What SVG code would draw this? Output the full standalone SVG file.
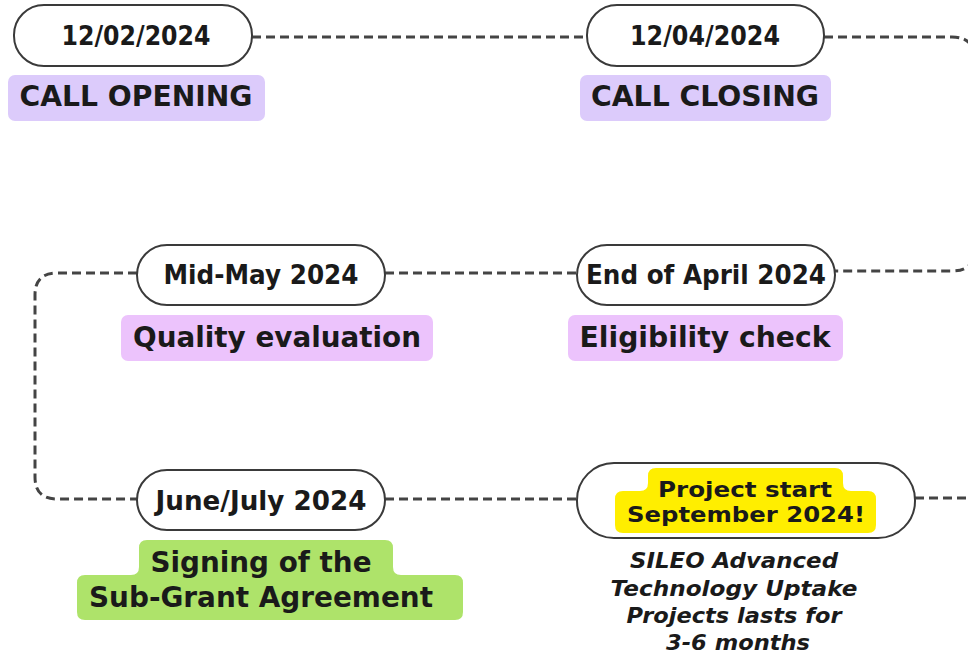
<svg xmlns="http://www.w3.org/2000/svg" width="968" height="655" viewBox="0 0 968 655">
<style>
.pill{fill:#fff;stroke:#3a3a3a;stroke-width:2}
.conn{fill:none;stroke:#444;stroke-width:3;stroke-dasharray:9 5}
.t{font-family:"DejaVu Sans","Liberation Sans",sans-serif;font-weight:bold;fill:#1a1a1a;text-anchor:middle}
.d{font-size:26px}
.l{font-size:28px}
.p{font-size:22px}
.i{font-family:"DejaVu Sans","Liberation Sans",sans-serif;font-weight:bold;font-style:italic;font-size:21px;fill:#1a1a1a;text-anchor:middle}
.lav{fill:#dccbfb}
.pink{fill:#ecc3fc}
</style>
<rect width="968" height="655" fill="#fff"/>
<g id="connectors">
<path class="conn" d="M252,37 H587"/>
<path class="conn" d="M824,37 H952 Q975,37 975,60 V248 Q975,271 952,271 H835"/>
<path class="conn" d="M385,273 H577"/>
<path class="conn" d="M137,273 H57 Q35,273 35,295 V477 Q35,499 57,499 H137"/>
<path class="conn" d="M385,499 H577"/>
<path class="conn" d="M915,498 H968"/>
</g>
<g id="n1">
<rect class="pill" x="14" y="5" width="238" height="61" rx="30"/>
<text class="t d" x="136" y="45" textLength="149" lengthAdjust="spacingAndGlyphs">12/02/2024</text>
<rect class="lav" x="8" y="75" width="257" height="46" rx="7"/>
<text class="t l" x="136" y="106" textLength="233" lengthAdjust="spacingAndGlyphs">CALL OPENING</text>
</g>
<g id="n2">
<rect class="pill" x="587" y="5" width="237" height="61" rx="30"/>
<text class="t d" x="705" y="45" textLength="150" lengthAdjust="spacingAndGlyphs">12/04/2024</text>
<rect class="lav" x="580" y="75" width="251" height="46" rx="7"/>
<text class="t l" x="705" y="106" textLength="228" lengthAdjust="spacingAndGlyphs">CALL CLOSING</text>
</g>
<g id="n3">
<rect class="pill" x="577" y="245" width="258" height="60" rx="30"/>
<text class="t d" x="706" y="284" textLength="240" lengthAdjust="spacingAndGlyphs">End of April 2024</text>
<rect class="pink" x="568" y="315" width="275" height="46" rx="7"/>
<text class="t l" x="705" y="347" textLength="251" lengthAdjust="spacingAndGlyphs">Eligibility check</text>
</g>
<g id="n4">
<rect class="pill" x="137" y="245" width="248" height="60" rx="30"/>
<text class="t d" x="261" y="284" textLength="195" lengthAdjust="spacingAndGlyphs">Mid-May 2024</text>
<rect class="pink" x="121" y="315" width="312" height="46" rx="7"/>
<text class="t l" x="277" y="347" textLength="288" lengthAdjust="spacingAndGlyphs">Quality evaluation</text>
</g>
<g id="n5">
<rect class="pill" x="137" y="470" width="248" height="60" rx="30"/>
<text class="t d" x="261" y="510" textLength="211" lengthAdjust="spacingAndGlyphs">June/July 2024</text>
<path fill="#aee36a" d="M147,540 H385 Q393,540 393,548 V567 Q393,575 401,575 H455 Q463,575 463,583 V612 Q463,620 455,620 H85 Q77,620 77,612 V583 Q77,575 85,575 H131 Q139,575 139,567 V548 Q139,540 147,540 Z"/>
<text class="t l" x="261" y="572" textLength="221" lengthAdjust="spacingAndGlyphs">Signing of the</text>
<text class="t l" x="261" y="607" textLength="344" lengthAdjust="spacingAndGlyphs">Sub-Grant Agreement</text>
</g>
<g id="n6">
<rect class="pill" x="577" y="463" width="338" height="75" rx="37"/>
<path fill="#ffee00" d="M656,468 H835 Q843,468 843,476 V483 Q843,491 851,491 H868 Q876,491 876,499 V525 Q876,533 868,533 H623 Q615,533 615,525 V499 Q615,491 623,491 H640 Q648,491 648,483 V476 Q648,468 656,468 Z"/>
<text class="t p" x="745" y="497" textLength="174" lengthAdjust="spacingAndGlyphs">Project start</text>
<text class="t p" x="746" y="522" textLength="238" lengthAdjust="spacingAndGlyphs">September 2024!</text>
<text class="i" x="734" y="568" textLength="208" lengthAdjust="spacingAndGlyphs">SILEO Advanced</text>
<text class="i" x="734" y="596" textLength="247" lengthAdjust="spacingAndGlyphs">Technology Uptake</text>
<text class="i" x="734" y="623" textLength="215" lengthAdjust="spacingAndGlyphs">Projects lasts for</text>
<text class="i" x="738" y="650" textLength="144" lengthAdjust="spacingAndGlyphs">3-6 months</text>
</g>
</svg>
